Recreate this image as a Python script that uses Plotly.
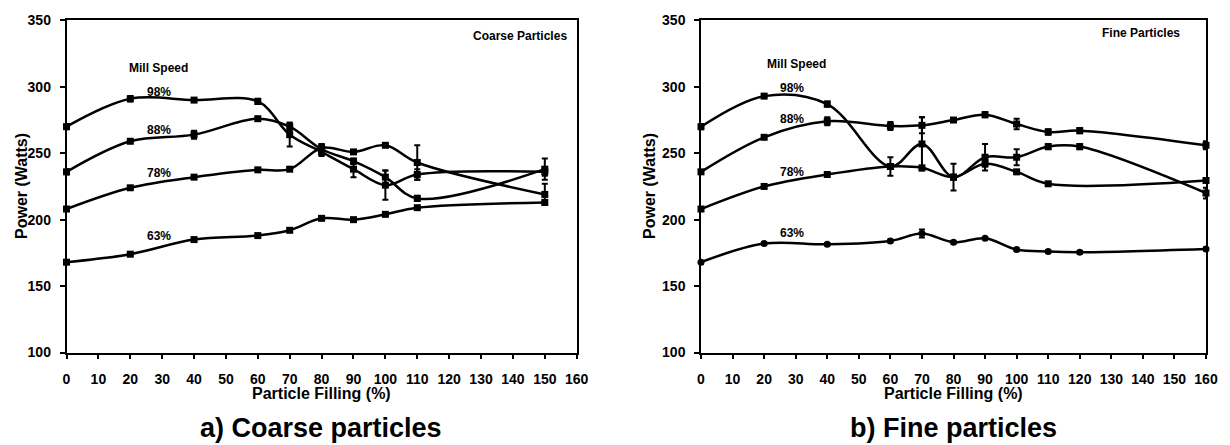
import plotly.graph_objects as go

# ---------------- data ----------------
x_coarse = [0, 20, 40, 60, 70, 80, 90, 100, 110, 150]
c98 = [270, 291, 290, 289, 264, 251, 238, 226, 234, 236]
c98_err = [2, 2, 1, 2, 9, 3, 6, 11, 4, 3]
c88 = [236, 259, 264, 276, 270, 253, 244, 232, 216, 238]
c88_err = [2, 1, 3, 1, 3, 4, 2, 5, 2, 8]
c78 = [208, 224, 232, 237.5, 238, 254, 251, 256, 243, 219]
c78_err = [1, 1, 1, 1, 1, 3, 1, 1, 13, 8]
c63 = [168, 174, 185, 188, 192, 201, 200, 204, 209, 213]
c63_err = [1, 1, 1, 1, 1, 1, 1, 1, 1, 1]

x_fine = [0, 20, 40, 60, 70, 80, 90, 100, 110, 120, 160]
f98 = [270, 293, 287, 240, 257, 232, 247, 247, 255, 255, 220]
f98_err = [2, 1, 2, 7, 20, 10, 10, 6, 2, 2, 4]
f88 = [236, 262, 274, 270.5, 271, 275, 279, 272, 266, 267, 256]
f88_err = [1, 1, 3, 3, 6, 1, 2, 4, 2, 2, 3]
x_fine78 = [0, 20, 40, 60, 70, 80, 90, 100, 110, 160]
f78 = [208, 225, 234, 240, 239, 232, 242, 236, 227, 229.5]
f78_err = [1, 1, 1, 1, 1, 1, 2, 1, 1, 1]
f63 = [168, 182, 181.5, 184, 189.5, 183, 186, 177.5, 176, 175.5, 178]
f63_err = [1, 1, 1, 1, 3, 1, 1, 1, 1, 1, 1]

speed_labels = ["98%", "88%", "78%", "63%"]
x_ticks = list(range(0, 161, 10))
y_ticks = list(range(100, 351, 50))

# page body has an 8px default margin; size the figure to fit the window
OFF = 8
W, H = 1230 - OFF, 445 - OFF
FONT = "Liberation Sans, Arial, sans-serif"

fig = go.Figure()


def add_series(x, y, err, xa, ya, symbol):
    fig.add_trace(go.Scatter(
        x=x, y=y, xaxis=xa, yaxis=ya, mode="lines+markers",
        line=dict(color="black", width=2.5, shape="spline", smoothing=1.0),
        marker=dict(color="black", size=7, symbol=symbol),
        error_y=dict(type="data", array=err, visible=True, color="black",
                     thickness=2, width=3),
        cliponaxis=False, showlegend=False, hoverinfo="x+y"))


for y, e in [(c98, c98_err), (c88, c88_err), (c78, c78_err), (c63, c63_err)]:
    add_series(x_coarse, y, e, "x", "y", "square")

add_series(x_fine, f98, f98_err, "x2", "y2", "square")
add_series(x_fine, f88, f88_err, "x2", "y2", "square")
add_series(x_fine78, f78, f78_err, "x2", "y2", "square")
add_series(x_fine, f63, f63_err, "x2", "y2", "circle")

# plot area in page pixels
L1, R1 = 66.5, 576.7
L2, R2 = 701.0, 1206.0
TOP, BOT = 20.4, 352.5


def px(v):
    return (v - OFF) / W


def py(v):
    return 1 - (v - OFF) / H


axis_common = dict(
    showgrid=False, zeroline=False, showline=True, linecolor="black",
    linewidth=1.5, mirror=True, ticks="outside", ticklen=5, tickwidth=1.5,
    tickcolor="black", automargin=False,
    tickfont=dict(family=FONT, size=14, color="black", weight="bold"),
)

fig.update_layout(
    template="none",
    width=W, height=H, margin=dict(l=0, r=0, t=0, b=0, pad=0),
    paper_bgcolor="white", plot_bgcolor="white",
    xaxis=dict(domain=[px(L1), px(R1)], range=[0, 160], tickvals=x_ticks,
               anchor="y", ticklabelstandoff=8, **axis_common),
    yaxis=dict(domain=[py(BOT), py(TOP)], range=[100, 350], tickvals=y_ticks,
               anchor="x", ticklabelstandoff=6, **axis_common),
    xaxis2=dict(domain=[px(L2), px(R2)], range=[0, 160], tickvals=x_ticks,
                anchor="y2", ticklabelstandoff=8, **axis_common),
    yaxis2=dict(domain=[py(BOT), py(TOP)], range=[100, 350], tickvals=y_ticks,
                anchor="x2", ticklabelstandoff=6, **axis_common),
)

ann = []


def text(x, y, t, size, angle=0):
    ann.append(dict(x=px(x), y=py(y), xref="paper", yref="paper", text=t,
                    showarrow=False, xanchor="center", yanchor="middle",
                    textangle=angle,
                    font=dict(family=FONT, size=size, color="black",
                              weight="bold")))


# axis titles
text(21, 186, "Power (Watts)", 16, -90)
text(649, 186, "Power (Watts)", 16, -90)
text(321, 393, "Particle Filling (%)", 16)
text(953, 393, "Particle Filling (%)", 16)
# subtitles
text(321, 428, "a) Coarse particles", 27)
text(953, 428, "b) Fine particles", 27)
# in-plot labels
text(520, 36, "Coarse Particles", 12)
text(1141, 33, "Fine Particles", 12)
text(158, 68, "Mill Speed", 12)
text(796, 64, "Mill Speed", 12)
for lab, yl, yr in zip(speed_labels, [92, 130, 173, 236], [88, 119, 172, 233]):
    text(159, yl, lab, 12)
    text(792, yr, lab, 12)

fig.update_layout(annotations=ann)

fig.write_html("out.html")
